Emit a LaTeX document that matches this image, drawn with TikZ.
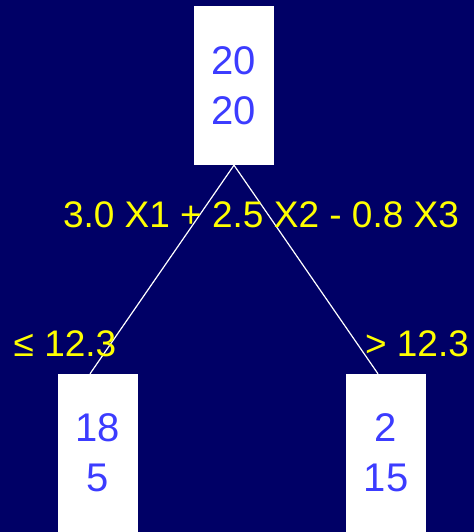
\documentclass[tikz,border=0pt]{standalone}
\usepackage{fontspec}
\setmainfont{Liberation Sans}
\usepackage{xcolor}
\usetikzlibrary{positioning}
\definecolor{slidebg}{RGB}{0,0,102}
\definecolor{countblue}{RGB}{60,60,255}
\definecolor{rulegold}{RGB}{255,255,0}
\tikzset{
  countbox/.style={rectangle,fill=white,inner sep=0pt,align=center,minimum width=80pt,text=countblue,font=\fontsize{40}{50}\selectfont},
  splitlabel/.style={inner sep=0pt,anchor=base,text=rulegold,font=\fontsize{37}{44}\selectfont},
  branch/.style={draw=white,line width=1.2pt}
}
\begin{document}
\begin{tikzpicture}[x=1pt,y=-1pt]
  \fill[slidebg] (0,0) rectangle (474,532);
  \useasboundingbox (0,0) rectangle (474,532);

  \node[countbox, minimum height=159pt] (root) at (234,85.5) {20\\20};
  \node[countbox, minimum height=158pt] (leftleaf) at (98,453) {18\\5};
  \node[countbox, minimum height=158pt] (rightleaf) at (386,453) {2\\15};

  \draw[branch] (root.south) -- ([xshift=-8pt]leftleaf.north);
  \draw[branch] (root.south) -- ([xshift=-8pt]rightleaf.north);

  \node[splitlabel] (rule) at (261,227) {3.0 X1 + 2.5 X2 - 0.8 X3};
  \node[splitlabel] (lelabel) at (65,356) {≤ 12.3};
  \node[splitlabel] (gtlabel) at (417,356) {> 12.3};
\end{tikzpicture}
\end{document}
